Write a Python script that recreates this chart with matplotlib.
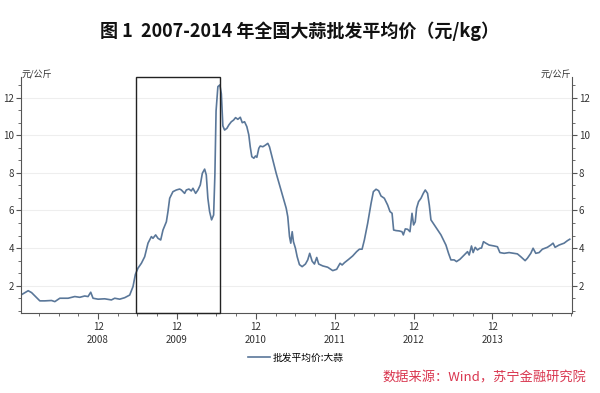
import numpy as np
import matplotlib
matplotlib.use("Agg")
import matplotlib.pyplot as plt
from matplotlib.ticker import FixedLocator, AutoMinorLocator
from matplotlib.patches import Rectangle

plt.rcParams['font.family'] = ['Noto Sans CJK SC', 'DejaVu Sans']

# time in decimal years, price in 元/公斤
t_year = [2007.955, 2008.031, 2008.074, 2008.128, 2008.179, 2008.242, 2008.327, 2008.369,
          2008.432, 2008.537, 2008.622, 2008.685, 2008.748, 2008.790, 2008.824, 2008.853,
          2008.917, 2009.001, 2009.086, 2009.128, 2009.191, 2009.255, 2009.318, 2009.360,
          2009.390, 2009.423, 2009.466, 2009.508, 2009.550, 2009.593, 2009.613, 2009.647,
          2009.676, 2009.711, 2009.740, 2009.783, 2009.803, 2009.825, 2009.866, 2009.909,
          2009.951, 2009.973, 2010.014, 2010.036, 2010.069, 2010.099, 2010.120, 2010.154,
          2010.183, 2010.213, 2010.239, 2010.268, 2010.289, 2010.309, 2010.331, 2010.356,
          2010.382, 2010.398, 2010.413, 2010.436, 2010.461, 2010.480, 2010.499, 2010.521,
          2010.550, 2010.575, 2010.606, 2010.635, 2010.660, 2010.689, 2010.720, 2010.745,
          2010.774, 2010.803, 2010.828, 2010.846, 2010.866, 2010.892, 2010.913, 2010.930,
          2010.955, 2010.973, 2011.006, 2011.040, 2011.069, 2011.090, 2011.132, 2011.175,
          2011.217, 2011.259, 2011.302, 2011.322, 2011.344, 2011.360, 2011.378, 2011.394,
          2011.419, 2011.441, 2011.470, 2011.504, 2011.546, 2011.575, 2011.600, 2011.631,
          2011.660, 2011.689, 2011.714, 2011.765, 2011.828, 2011.892, 2011.942, 2011.985,
          2012.011, 2012.040, 2012.094, 2012.145, 2012.195, 2012.230, 2012.264, 2012.293,
          2012.335, 2012.378, 2012.407, 2012.441, 2012.474, 2012.504, 2012.546, 2012.588,
          2012.618, 2012.644, 2012.664, 2012.694, 2012.736, 2012.770, 2012.787, 2012.812,
          2012.841, 2012.871, 2012.897, 2012.917, 2012.938, 2012.955, 2012.980, 2013.011,
          2013.040, 2013.065, 2013.094, 2013.116, 2013.137, 2013.200, 2013.264, 2013.327,
          2013.360, 2013.390, 2013.432, 2013.461, 2013.504, 2013.559, 2013.601, 2013.622,
          2013.651, 2013.672, 2013.698, 2013.727, 2013.757, 2013.778, 2013.803, 2013.833,
          2013.875, 2013.939, 2013.980, 2014.011, 2014.065, 2014.128, 2014.192, 2014.233,
          2014.276, 2014.331, 2014.360, 2014.403, 2014.432, 2014.466, 2014.508, 2014.550,
          2014.613, 2014.656, 2014.685, 2014.711, 2014.761, 2014.825, 2014.866, 2014.897]
price = [1.54, 1.73, 1.63, 1.40, 1.19, 1.19, 1.21, 1.15,
         1.33, 1.33, 1.42, 1.38, 1.45, 1.42, 1.65, 1.33,
         1.28, 1.30, 1.24, 1.33, 1.28, 1.36, 1.50, 1.95,
         2.60, 2.93, 3.19, 3.54, 4.26, 4.61, 4.52, 4.70,
         4.52, 4.43, 4.96, 5.40, 5.94, 6.65, 7.00, 7.09,
         7.14, 7.09, 6.91, 7.09, 7.14, 7.04, 7.18, 6.91,
         7.09, 7.36, 7.98, 8.20, 7.89, 6.65, 5.94, 5.50,
         5.76, 7.89, 11.30, 12.59, 12.68, 12.20, 10.50, 10.28,
         10.37, 10.55, 10.72, 10.81, 10.94, 10.85, 10.96, 10.67,
         10.72, 10.46, 10.02, 9.39, 8.86, 8.78, 8.90, 8.83,
         9.31, 9.43, 9.39, 9.48, 9.57, 9.39, 8.69, 7.98,
         7.36, 6.73, 6.12, 5.67, 4.61, 4.26, 4.87, 4.34,
         3.99, 3.54, 3.12, 3.01, 3.15, 3.37, 3.72, 3.30,
         3.15, 3.50, 3.15, 3.05, 2.98, 2.80, 2.87, 3.19,
         3.10, 3.22, 3.40, 3.58, 3.81, 3.94, 3.94, 4.43,
         5.32, 6.38, 7.00, 7.13, 7.05, 6.77, 6.65, 6.29,
         5.94, 5.85, 4.96, 4.93, 4.91, 4.87, 4.70, 5.02,
         5.00, 4.87, 5.85, 5.23, 5.40, 6.12, 6.47, 6.65,
         6.91, 7.09, 6.91, 6.29, 5.50, 5.10, 4.70, 4.16,
         3.72, 3.37, 3.37, 3.28, 3.40, 3.63, 3.81, 3.63,
         4.11, 3.76, 4.04, 3.90, 3.99, 4.00, 4.34, 4.26,
         4.16, 4.11, 4.07, 3.76, 3.72, 3.76, 3.72, 3.69,
         3.54, 3.33, 3.46, 3.72, 3.99, 3.72, 3.76, 3.94,
         4.04, 4.16, 4.26, 4.04, 4.16, 4.26, 4.39, 4.47]

dec_ticks = [2008.9167, 2009.9167, 2010.9167, 2011.9167, 2012.9167, 2013.9167]
dec_labels = ['12\n2008', '12\n2009', '12\n2010', '12\n2011', '12\n2012', '12\n2013']
box_span = (2009.403, 2010.466)

fig = plt.figure(figsize=(6, 3.93), dpi=100)
ax = fig.add_axes([0.035, 0.2043, 0.9183, 0.5997])

ax.plot(t_year, price, color='#5a7799', lw=1.2, label='批发平均价:大蒜')

ax.set_xlim(2007.94, 2014.925)
ax.set_ylim(0.56, 13.1)

ax.xaxis.set_major_locator(FixedLocator(dec_ticks))
ax.xaxis.set_minor_locator(FixedLocator(np.arange(2008.1667, 2014.93, 0.25)))
ax.set_xticklabels(dec_labels, fontsize=7, linespacing=1.45, color='#333333')

ax.set_yticks([2, 4, 6, 8, 10, 12])
ax.yaxis.set_minor_locator(AutoMinorLocator(3))
ax.tick_params(axis='y', which='both', left=True, right=True,
               labelleft=True, labelright=True, direction='out',
               labelsize=7, labelcolor='#333333', color='#555555')
ax.tick_params(axis='y', which='major', length=3.5, pad=1.5)
ax.tick_params(axis='y', which='minor', length=2)
ax.tick_params(axis='x', which='major', length=4.5, color='#555555', pad=2)
ax.tick_params(axis='x', which='minor', length=2, color='#555555')

ax.grid(axis='y', which='major', color='#eeeeee', lw=0.8)
ax.set_axisbelow(True)

ax.spines['top'].set_visible(False)
for s in ('left', 'right', 'bottom'):
    ax.spines[s].set_color('#555555')
    ax.spines[s].set_linewidth(0.8)

# highlight box
ax.add_patch(Rectangle((box_span[0], 0.56), box_span[1] - box_span[0], 13.1 - 0.56,
                       fill=False, edgecolor='#222222', lw=1.0, clip_on=False, zorder=3))

fig.text(22 / 600, 1 - 75 / 393, '元/公斤', fontsize=6.5, color='#333333', ha='left', va='center')
fig.text(571 / 600, 1 - 75 / 393, '元/公斤', fontsize=6.5, color='#333333', ha='right', va='center')

fig.text(0.5, 1 - 31 / 393, '图 1  2007-2014 年全国大蒜批发平均价（元/kg）',
         fontsize=13, fontweight='bold', ha='center', va='center', color='#111111')

fig.legend(loc='center', bbox_to_anchor=(296 / 600, 1 - 357.5 / 393), frameon=False,
           fontsize=7, handlelength=2.2, handletextpad=0.3)

fig.text(586 / 600, 1 - 377.5 / 393, '数据来源：Wind，苏宁金融研究院', fontsize=9.5,
         style='italic', color='#d9364f', ha='right', va='center')

fig.savefig('out.png', dpi=100)
